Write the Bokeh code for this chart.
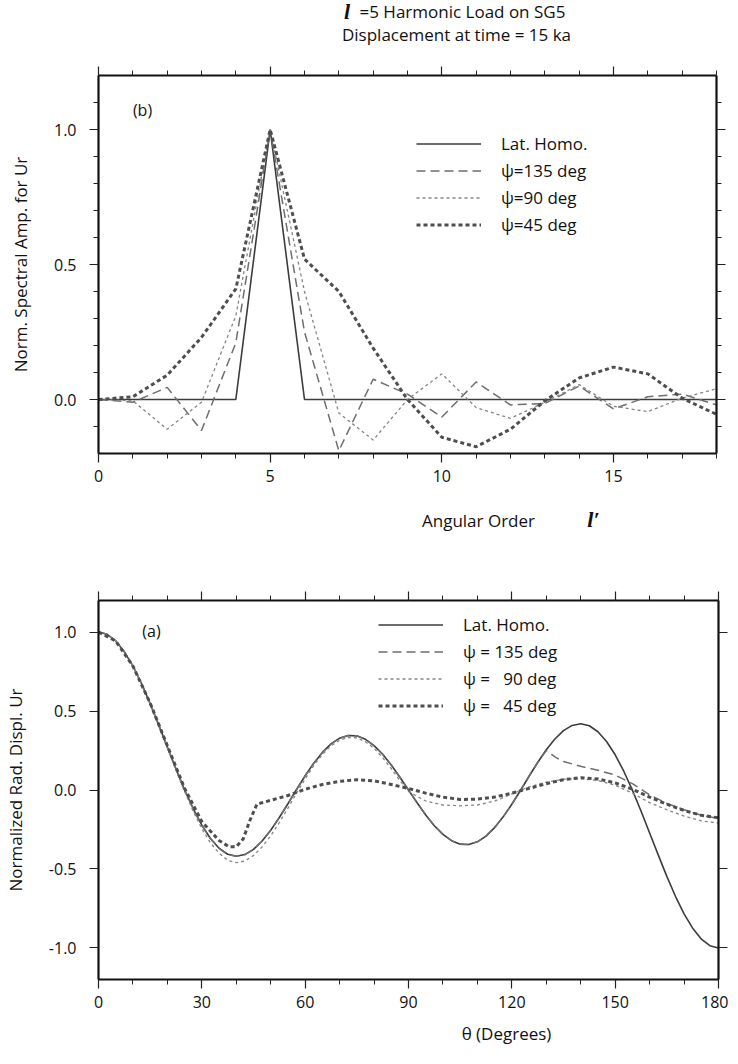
from bokeh.plotting import figure
from bokeh.models import (Range1d, LinearAxis, FixedTicker, PrintfTickFormatter,
                          Label, Legend, LegendItem)
from bokeh.layouts import column
from bokeh.embed import file_html
from bokeh.resources import INLINE

FONT = "Open Sans"
SERIF = "Liberation Serif"

# ---------------- panel (b): spectral amplitude vs angular order ----------------
l_order = list(range(19))
spec_homo = [0.0, 0.0, 0.0, 0.0, 0.0, 1.0, 0.0, 0.0, 0.0, 0.0, 0.0, 0.0, 0.0, 0.0, 0.0, 0.0, 0.0, 0.0, 0.0]
spec_135 = [0.0, -0.01, 0.045, -0.115, 0.21, 1.0, 0.25, -0.19, 0.075, 0.02, -0.065, 0.065,
            -0.02, -0.015, 0.05, -0.035, 0.01, 0.02, -0.02]
spec_90 = [0.0, -0.005, -0.11, -0.01, 0.31, 1.0, 0.40, -0.05, -0.15, 0.0, 0.095, -0.03,
           -0.07, -0.01, 0.055, -0.025, -0.045, 0.005, 0.04]
spec_45 = [0.0, 0.01, 0.09, 0.23, 0.41, 1.0, 0.52, 0.40, 0.19, 0.0, -0.14, -0.175,
           -0.11, -0.005, 0.08, 0.12, 0.095, 0.005, -0.055]

# ---------------- panel (a): normalized radial displacement vs theta ----------------
theta_homo = [i * 2.5 for i in range(73)]
ur_homo = [1.000, 0.986, 0.944, 0.875, 0.784, 0.673, 0.547, 0.411, 0.272, 0.133, 0.001,
           -0.119, -0.223, -0.307, -0.369, -0.407, -0.420, -0.409, -0.376, -0.323, -0.255,
           -0.174, -0.087, 0.003, 0.090, 0.170, 0.238, 0.292, 0.328, 0.345, 0.343, 0.321,
           0.281, 0.226, 0.158, 0.081, 0.000, -0.081, -0.158, -0.226, -0.281, -0.321,
           -0.343, -0.345, -0.328, -0.292, -0.238, -0.170, -0.090, -0.003, 0.087, 0.174,
           0.255, 0.323, 0.376, 0.409, 0.420, 0.407, 0.369, 0.307, 0.223, 0.119, -0.001,
           -0.133, -0.272, -0.411, -0.547, -0.673, -0.784, -0.875, -0.944, -0.986, -1.000]

theta_135 = [i * 2.5 for i in range(53)] + [132.5, 135, 140, 145, 150, 155, 160, 165, 170, 175, 180]
ur_135 = [1.000, 0.986, 0.944, 0.875, 0.784, 0.673, 0.547, 0.411, 0.272, 0.133, 0.001,
          -0.119, -0.223, -0.307, -0.369, -0.407, -0.420, -0.409, -0.376, -0.323, -0.255,
          -0.174, -0.087, 0.003, 0.090, 0.170, 0.238, 0.292, 0.328, 0.345, 0.343, 0.321,
          0.281, 0.226, 0.158, 0.081, 0.000, -0.081, -0.158, -0.226, -0.281, -0.321,
          -0.343, -0.345, -0.328, -0.292, -0.238, -0.170, -0.090, -0.003, 0.087, 0.174,
          0.250, 0.210, 0.180, 0.150, 0.125, 0.095, 0.040, -0.030, -0.085, -0.125, -0.160,
          -0.180]

theta_90 = [i * 2.5 for i in range(37)] + [95, 100, 105, 110, 115, 120, 125, 130, 135, 140,
                                          145, 150, 155, 160, 165, 170, 175, 180]
ur_90 = [1.0, 0.986, 0.944, 0.875, 0.784, 0.672, 0.545, 0.407, 0.265, 0.125, -0.01,
         -0.135, -0.245, -0.335, -0.40, -0.445, -0.46, -0.45, -0.415, -0.36, -0.29, -0.205,
         -0.115, -0.02, 0.07, 0.155, 0.225, 0.28, 0.315, 0.333, 0.33, 0.305, 0.265, 0.205,
         0.135, 0.06, -0.01,
         -0.07, -0.095, -0.10, -0.095, -0.07, -0.025, 0.02, 0.05, 0.068, 0.072, 0.06, 0.03,
         -0.02, -0.08, -0.125, -0.165, -0.195, -0.21]

theta_45 = [0, 5, 10, 15, 20, 25, 30, 35, 38, 40, 42, 44, 46, 50, 55, 60, 65, 70, 75, 80,
            85, 90, 95, 100, 105, 110, 115, 120, 125, 130, 135, 140, 145, 150, 155, 160,
            165, 170, 175, 180]
ur_45 = [1.0, 0.944, 0.784, 0.55, 0.28, 0.01, -0.20, -0.32, -0.36, -0.36, -0.31, -0.19,
         -0.09, -0.065, -0.035, 0.005, 0.035, 0.055, 0.065, 0.058, 0.035, 0.01, -0.02,
         -0.045, -0.06, -0.058, -0.045, -0.02, 0.01, 0.04, 0.065, 0.078, 0.07, 0.045,
         0.005, -0.045, -0.09, -0.13, -0.16, -0.176]

legend_b = ["Lat. Homo.", "\u03c8=135 deg", "\u03c8=90 deg", "\u03c8=45 deg"]
legend_a = ["Lat. Homo.", "\u03c8 = 135 deg", "\u03c8 = \u00a0\u00a090 deg", "\u03c8 = \u00a0\u00a045 deg"]

STYLES = [
    dict(line_color="#3c3c3c", line_width=1.6),
    dict(line_color="#6e6e6e", line_width=1.5, line_dash="9 5"),
    dict(line_color="#858585", line_width=1.3, line_dash="3 3"),
    dict(line_color="#4e4e4e", line_width=3.0, line_dash="4 3"),
]


def style_axis(ax, ticks, minor, fmt, labels=True, standoff=7):
    ax.ticker = FixedTicker(ticks=ticks, minor_ticks=minor)
    ax.formatter = PrintfTickFormatter(format=fmt)
    ax.axis_line_width = 2.2
    ax.axis_line_color = "#111111"
    ax.major_tick_line_color = "#222222"
    ax.major_tick_line_width = 1.2
    ax.minor_tick_line_color = "#222222"
    ax.minor_tick_line_width = 1.0
    ax.major_tick_in = 0
    ax.major_tick_out = 9
    ax.minor_tick_in = 0
    ax.minor_tick_out = 5
    ax.major_label_text_font = FONT
    ax.axis_label_text_font = FONT
    ax.axis_label_text_font_style = "normal"
    ax.axis_label_text_font_size = "17px"
    ax.axis_label_text_color = "#111111"
    if labels:
        ax.major_label_text_color = "#111111"
        ax.major_label_text_font_size = "16px"
        ax.major_label_standoff = standoff
    else:
        ax.major_label_text_color = None
        ax.major_label_text_font_size = "1px"
        ax.major_label_standoff = 0


def make_fig(width, height, xr, yr, bl, br, bt, bb):
    p = figure(width=width, height=height, x_range=Range1d(*xr), y_range=Range1d(*yr),
               output_backend="svg", toolbar_location=None,
               min_border_left=bl, min_border_right=br, min_border_top=bt, min_border_bottom=bb)
    p.xgrid.visible = False
    p.ygrid.visible = False
    p.outline_line_color = None
    p.background_fill_color = "white"
    p.border_fill_color = "white"
    return p


def make_strip(width, height):
    p = figure(width=width, height=height, x_range=Range1d(0, 1), y_range=Range1d(0, 1),
               output_backend="svg", toolbar_location=None, min_border=0,
               x_axis_location=None, y_axis_location=None)
    p.grid.visible = False
    p.outline_line_color = None
    p.background_fill_color = "white"
    p.border_fill_color = "white"
    return p


def add_lines_and_legend(p, xs_list, ys_list, labels, loc):
    rends = []
    for xs, ys, st in zip(xs_list, ys_list, STYLES):
        rends.append(p.line(xs, ys, **st))
    items = [LegendItem(label=lab, renderers=[r]) for lab, r in zip(labels, rends)]
    leg = Legend(items=items, location=loc, orientation="vertical",
                 glyph_width=65, glyph_height=23, label_height=23, label_standoff=20,
                 spacing=4, padding=0, margin=0, border_line_color=None,
                 background_fill_alpha=0, label_text_font=FONT,
                 label_text_font_size="17px", label_text_color="#111111")
    p.add_layout(leg)


def screen_label(p, x, y, text, size="17px", font=FONT, style="normal", align="center"):
    p.add_layout(Label(x=x, y=y, x_units="screen", y_units="screen", text=text,
                       text_font=font, text_font_size=size, text_font_style=style,
                       text_align=align, text_baseline="middle", text_color="#111111"))


# ---------------- title strip ----------------
p0 = make_strip(726, 56)
screen_label(p0, 248.5, 45, "l", size="22px", font=SERIF, style="bold italic")
screen_label(p0, 261, 45, "=5 Harmonic Load on SG5", align="left")
screen_label(p0, 358, 22, "Displacement at time = 15 ka")

# ---------------- top figure (b) ----------------
p1 = make_fig(726, 441, (0, 18), (-0.2, 1.2), 89, 10, 19, 44)
x_major_b = [0, 5, 10, 15]
x_minor_b = list(range(0, 19))
y_major_b = [0.0, 0.5, 1.0]
y_minor_b = [-0.1, 0.1, 0.2, 0.3, 0.4, 0.6, 0.7, 0.8, 0.9, 1.1]
style_axis(p1.xaxis[0], x_major_b, x_minor_b, "%d", True, 7)
style_axis(p1.yaxis[0], y_major_b, y_minor_b, "%.1f", True, 13)
p1.yaxis[0].axis_label = "Norm. Spectral Amp. for Ur"
p1.yaxis[0].axis_label_standoff = 19
ax_top = LinearAxis()
style_axis(ax_top, x_major_b, x_minor_b, "%d", False)
p1.add_layout(ax_top, "above")
ax_right = LinearAxis()
style_axis(ax_right, y_major_b, y_minor_b, "%.1f", False)
p1.add_layout(ax_right, "right")

add_lines_and_legend(p1, [l_order] * 4, [spec_homo, spec_135, spec_90, spec_45],
                     legend_b, (318, 217))
screen_label(p1, 44, 344, "(b)", size="16px")

# ---------------- x-axis title strip for (b) ----------------
pm = make_strip(726, 48)
screen_label(pm, 380, 25, "Angular Order")
screen_label(pm, 495, 26, "l\u2032", size="22px", font=SERIF, style="bold italic")

# ---------------- bottom figure (a) ----------------
p2 = make_fig(728, 474, (0, 180), (-1.2, 1.2), 97, 10, 55, 40)
x_major_a = list(range(0, 181, 30))
x_minor_a = list(range(0, 181, 10))
y_major_a = [-1.0, -0.5, 0.0, 0.5, 1.0]
style_axis(p2.xaxis[0], x_major_a, x_minor_a, "%d", True, 7)
style_axis(p2.yaxis[0], y_major_a, [], "%.1f", True, 13)
p2.yaxis[0].axis_label = "Normalized Rad. Displ. Ur"
p2.yaxis[0].axis_label_standoff = 19
ax_top2 = LinearAxis()
style_axis(ax_top2, x_major_a, x_minor_a, "%d", False)
p2.add_layout(ax_top2, "above")
ax_right2 = LinearAxis()
style_axis(ax_right2, y_major_a, [], "%.1f", False)
p2.add_layout(ax_right2, "right")

add_lines_and_legend(p2, [theta_homo, theta_135, theta_90, theta_45],
                     [ur_homo, ur_135, ur_90, ur_45], legend_a, (280, 262))
screen_label(p2, 53, 349, "(a)", size="16px")

# ---------------- x-axis title strip for (a) ----------------
pb = make_strip(728, 29)
screen_label(pb, 408, 15, "\u03b8 (Degrees)")

layout = column(p0, p1, pm, p2, pb)
open("out.html", "w").write(file_html(layout, INLINE))
